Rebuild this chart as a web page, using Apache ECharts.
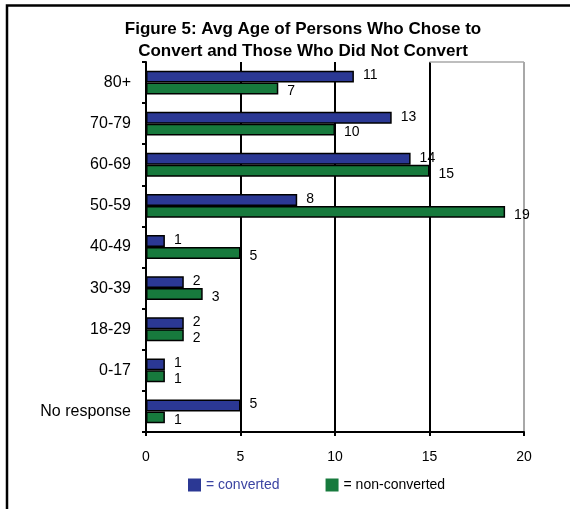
<!DOCTYPE html>
<html>
<head>
<meta charset="utf-8">
<script src="https://cdn.jsdelivr.net/npm/echarts@6/dist/echarts.min.js"></script>
<style>
html,body{margin:0;padding:0;background:#fff;}
#chart{width:570px;height:509px;}
</style>
</head>
<body>
<div id="chart"></div>
<script>
const categories = ['80+', '70-79', '60-69', '50-59', '40-49', '30-39', '18-29', '0-17', 'No response'];
const converted = [11, 13, 14, 8, 1, 2, 2, 1, 5];
const nonConverted = [7, 10, 15, 19, 5, 3, 2, 1, 1];
const xTicks = [0, 5, 10, 15, 20];
const titleLines = ['Figure 5: Avg Age of Persons Who Chose to', 'Convert and Those Who Did Not Convert'];

const BLUE = '#2B3894';
const GREEN = '#177A3D';
const FONT = '"Liberation Sans", Arial, sans-serif';

const chart = echarts.init(document.getElementById('chart'), null, {renderer: 'canvas'});

const option = {
  backgroundColor: '#ffffff',
  animation: false,
  title: {
    text: titleLines.join('\n'),
    left: 298,
    top: 14,
    textAlign: 'center',
    textStyle: {
      fontFamily: FONT,
      fontWeight: 'bold',
      fontSize: 17,
      lineHeight: 21.5,
      color: '#000'
    }
  },
  legend: {
    bottom: 12,
    left: 183,
    itemWidth: 13,
    itemHeight: 13,
    itemGap: 46,
    icon: 'rect',
    itemStyle: {borderWidth: 0},
    textStyle: {fontFamily: FONT, fontSize: 14, color: '#000'},
    data: [
      {name: '= converted', textStyle: {color: '#3B44A2'}},
      {name: '= non-converted', textStyle: {color: '#000'}}
    ]
  },
  grid: {left: 146, right: 46, top: 62, bottom: 77, containLabel: false},
  xAxis: {
    type: 'value',
    min: xTicks[0],
    max: xTicks[xTicks.length - 1],
    interval: 5,
    axisLine: {show: true, lineStyle: {color: '#000', width: 2}},
    axisTick: {show: true, length: 4, lineStyle: {color: '#000', width: 2}},
    axisLabel: {
      margin: 18,
      fontFamily: FONT,
      fontSize: 14,
      color: '#000',
      formatter: v => xTicks.includes(v) ? String(v) : ''
    },
    splitLine: {
      show: true,
      lineStyle: {color: ['#000', '#000', '#000', '#000', '#A8A8A8'], width: 2}
    }
  },
  yAxis: {
    type: 'category',
    data: categories,
    inverse: true,
    axisLine: {show: true, lineStyle: {color: '#000', width: 2}},
    axisTick: {show: true, length: 4, lineStyle: {color: '#000', width: 2}},
    axisLabel: {margin: 15, fontFamily: FONT, fontSize: 16, color: '#000'}
  },
  series: [
    {
      name: '= converted',
      type: 'bar',
      data: converted,
      barGap: '0%',
      barCategoryGap: '42%',
      itemStyle: {color: BLUE, borderColor: '#000', borderWidth: 1.5},
      label: {
        show: true, position: 'right', distance: 9, offset: [0, -1],
        fontFamily: FONT, fontSize: 14, color: '#000'
      }
    },
    {
      name: '= non-converted',
      type: 'bar',
      data: nonConverted,
      barGap: '0%',
      barCategoryGap: '42%',
      itemStyle: {color: GREEN, borderColor: '#000', borderWidth: 1.5},
      label: {
        show: true, position: 'right', distance: 9, offset: [0, 3],
        fontFamily: FONT, fontSize: 14, color: '#000'
      }
    }
  ]
};

chart.setOption(option);

// frame and partial top border of plot area, positioned through the axes
const x15 = chart.convertToPixel({xAxisIndex: 0}, 15);
const x20 = chart.convertToPixel({xAxisIndex: 0}, 20);
const yTop = chart.convertToPixel({yAxisIndex: 0}, categories[0]) - (chart.convertToPixel({yAxisIndex: 0}, categories[1]) - chart.convertToPixel({yAxisIndex: 0}, categories[0])) / 2;
chart.setOption({
  graphic: [
    {
      type: 'line', silent: true,
      shape: {x1: x15, y1: yTop, x2: x20, y2: yTop},
      style: {stroke: '#A8A8A8', lineWidth: 1.5}
    },
    {
      type: 'polyline', silent: true,
      shape: {points: [[7, 520], [7, 5.5], [580, 5.5]]},
      style: {stroke: '#000', lineWidth: 2.5, fill: null}
    }
  ]
});
</script>
</body>
</html>
